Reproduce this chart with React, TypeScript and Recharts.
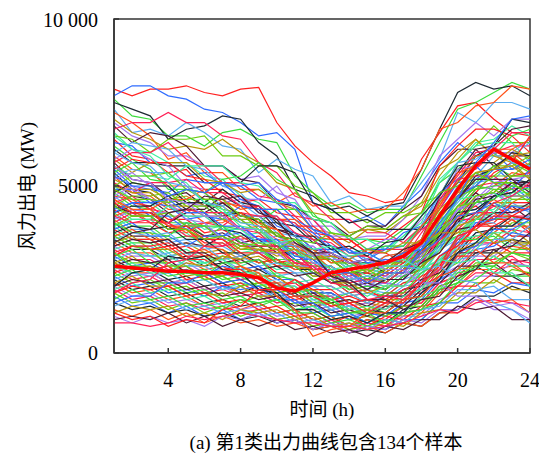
import React from 'react';
import { LineChart, Line, XAxis, YAxis, ReferenceArea } from 'recharts';

const hours = [1, 2, 3, 4, 5, 6, 7, 8, 9, 10, 11, 12, 13, 14, 15, 16, 17, 18, 19, 20, 21, 22, 23, 24];
const xTicks = [4, 8, 12, 16, 20, 24];
const yTicks = [0, 5000, 10000];

// high-start samples (MW)
const highStart: number[][] = [
  [7900,7700,7900,7900,8000,7800,7700,7900,7950,6900,6200,5700,5300,4800,4700,4500,4600,5800,6600,7400,7500,7000,6600,6500],
  [7700,8000,8000,7700,7600,7300,7200,6900,6500,6600,6100,4500,4300,3900,4100,3800,4400,4900,5700,6300,5900,6000,5500,5600],
  [7600,7100,7000,6500,6500,6200,6600,6700,6400,6300,5300,4800,4400,4500,4200,4300,4300,5300,6300,7300,7500,7800,8100,7900],
  [7500,7300,7100,6400,6700,6800,7100,7000,6300,5900,4900,4700,4300,4400,4100,4400,4500,5500,6700,7800,8100,7900,8000,7700],
  [7300,6600,6700,6500,6900,6600,6200,6100,5400,5800,5500,5300,4500,4700,4300,4400,4400,5100,5800,7200,6900,7500,7500,7300],
  [7200,6900,6500,5800,6000,5400,5400,4900,4900,4500,4800,4400,4500,4200,4300,4300,4800,5500,6700,6900,7400,7500,8000,7900],
  [7000,6600,6400,6100,6200,6100,6400,6000,5700,5100,4900,4200,4100,3600,3700,3600,4000,4500,5500,5800,6400,5900,5900,5500],
  [6900,6500,6300,5900,5900,5600,5600,5200,5300,4800,4600,3800,3800,3400,3500,3500,4000,4700,5900,6400,6900,6500,7000,7000],
  [6800,6300,6600,6500,6200,5600,5600,5200,5100,4500,4400,4000,3900,3500,3800,3800,4300,4700,5600,6100,6100,5600,5900,5900],
  [6700,6900,6900,7200,6900,6900,6500,6400,5700,5400,4700,4500,4000,4000,3600,3600,3300,3800,4500,5400,5500,6000,6200,6200],
  [6600,6100,6000,5700,5700,5300,5200,4700,4500,4000,3900,3400,3400,3000,3100,3000,3500,4100,5200,5700,6300,6400,6800,6500],
  [6500,6400,6000,6400,6400,6500,5900,5900,5600,5600,5000,4800,4200,4200,3900,4200,4200,4500,4700,5700,6200,6800,6300,6300],
  [6400,5900,5800,5400,5500,4900,4900,4500,4600,4200,4100,3600,3500,3100,3400,3400,3800,4200,5600,6200,6700,6700,6500,6000],
  [6300,6200,5700,5700,5300,5400,5000,5000,4600,4500,4000,3700,3200,3100,2800,3100,3200,3800,4300,5100,5200,5600,5100,5100],
  [6200,5800,5500,4900,4900,4800,5200,5300,5700,5200,4900,4100,3900,3400,3400,3300,3700,4200,5100,5500,5900,5900,6500,6700],
  [6100,5700,5700,5600,5600,5100,5100,5100,5600,5600,5400,4500,4300,3900,4000,3700,3700,3700,4600,5100,5900,6200,7000,6900],
  [6000,6300,6200,6100,5600,5500,5000,4800,4200,4100,3500,3400,3000,3100,2800,3200,3200,3700,4100,5000,5300,5900,5900,6300],
  [5900,5500,5400,5000,5000,4600,4600,4300,4400,4000,4000,3500,3400,3000,2900,2500,2900,3300,4400,5200,5900,6000,6000,5600],
  [5800,5400,5700,5700,5700,5200,5100,4800,4900,4500,4300,3700,3600,3300,3700,3700,4100,4400,5300,6000,6400,5900,5700,5200],
  [5800,6100,5800,5600,5000,4900,4500,4600,4600,5000,4300,4000,3500,3500,3100,3400,3400,4000,4500,5500,5600,6000,6000,6400],
  [5700,5200,5100,4700,4800,4400,4500,4100,4100,3700,3600,3100,3000,2600,2700,2600,3000,3400,4700,5400,6100,6200,6700,6800],
  [5700,6000,6000,6300,5800,5600,5100,5100,4700,4600,4100,4000,3400,3400,3000,3100,3100,3700,4000,4800,5000,5100,4700,4700],
  [5600,5300,5300,5200,5600,5600,5600,5100,5000,4500,4500,4000,3900,3400,3400,3100,3500,3900,5100,5700,6200,6300,6300,5700],
  [5600,5100,5000,4500,4600,4200,4200,3900,3900,3500,3400,2900,2900,2500,2600,2500,2900,3200,4200,4700,5200,5300,5700,5400],
  [5500,5800,5700,5700,5300,5200,4800,4700,4300,4300,3800,3800,3400,3400,3000,3000,2700,3100,3500,4400,4800,5400,5700,6500],
  [5500,5000,4900,4800,5200,5100,5100,4600,4400,3800,3600,3100,3100,2800,3100,3100,3600,3800,4800,5200,5600,5100,5000,4600],
  [5400,5700,5200,5100,4600,4600,4200,4200,3900,4300,4300,4200,3600,3500,3100,3200,3200,3800,4100,4900,5100,5600,5300,5300],
  [5400,4900,4800,4400,4500,4500,4900,4500,4400,3900,3800,3300,3200,2700,2700,2400,2800,3100,4100,4600,5300,5500,6000,5900],
  [5300,5500,5400,5400,4900,4800,4400,4500,4100,4000,3500,3400,2900,2900,2600,2900,3000,3800,4700,5700,5800,6200,5700,5600],
  [5300,4800,4700,4300,4300,3900,4000,3700,3800,3400,3300,2800,2800,2400,2500,2400,2800,3000,3900,4300,4900,5000,5400,5300],
];

// mid-start samples (MW)
const midStart: number[][] = [
  [5200,4900,4900,4600,4700,4400,4400,4000,4000,3500,3400,2900,2800,2400,2500,2400,2900,3300,4500,5100,5700,5700,6100,5800],
  [5200,5400,5000,5000,4500,4400,4000,4000,3600,3600,3200,3200,2800,2800,2500,2800,2800,3300,3600,4300,4500,5000,5000,5400],
  [5100,4700,4600,4200,4300,4300,4700,4400,4300,3700,3500,2900,2800,2400,2400,2100,2500,2800,3700,4200,4800,4400,4400,4000],
  [5100,4800,5100,5100,5200,4800,4800,4400,4400,4000,3900,3400,3300,2900,2900,2600,3000,3400,4600,5300,6000,6100,6600,6600],
  [5000,4600,4500,4100,4100,3700,3800,3500,3600,3200,3200,2800,2900,2600,2700,2600,3000,3200,4000,4300,4600,4200,4100,3700],
  [5000,5300,5300,5400,4900,4800,4300,4200,3700,3600,3100,3000,2500,2500,2200,2500,2500,3100,3600,4600,5000,5600,5600,5900],
  [4900,4500,4400,4000,4000,3600,3700,3400,3500,3200,3200,2700,2600,2200,2300,2200,2600,2800,3600,4000,4700,4800,5300,5400],
  [4900,4900,4500,4400,4000,4100,4000,4400,4300,4300,3800,3600,3100,3100,2700,2800,2700,3200,3500,4200,4300,4700,4700,5000],
  [4800,4400,4300,3900,3900,3500,3500,3100,3100,2700,2700,2300,2300,1900,2000,1900,2300,2600,3600,4200,4900,5000,5100,4700],
  [4800,5100,5000,5000,4500,4500,4100,4200,3900,3900,3500,3500,3100,3200,2900,3300,3400,4100,4700,5600,5700,5700,5200,5100],
  [4700,4300,4200,3800,3900,3800,4200,4100,4100,3600,3500,3000,2900,2500,2600,2300,2700,2900,3900,4500,5100,5200,5700,5600],
  [4700,4600,4300,4600,4600,4900,4500,4400,3900,3700,3100,3000,2500,2500,2100,2200,2200,2800,3200,4000,4200,4600,4300,4300],
  [4600,4200,4100,3700,3700,3400,3400,3100,3200,2900,3000,2600,2600,2200,2300,2200,2600,2900,4000,4700,5400,5500,5900,6000],
  [4600,4900,4600,4500,4100,4100,3700,3700,3400,3500,3200,3200,2800,2800,2500,2600,2600,3200,3600,4300,4400,4800,4500,4500],
  [4500,4100,4100,3700,3800,3500,3600,3300,3400,3000,3000,2500,2500,2100,2200,2100,2500,2700,3500,3900,4500,4600,5100,5100],
  [4500,4700,4300,4200,3800,3900,3800,4200,4100,4100,3600,3400,2900,2800,2400,2700,2800,3600,4300,5200,5300,5300,4900,5000],
  [4400,4000,4000,3600,3600,3200,3300,3000,3100,2800,2800,2400,2400,2000,2100,2000,2400,2500,3200,3500,4100,4200,4600,4600],
  [4400,4700,4700,4800,4400,4400,4000,4000,3600,3600,3200,3100,2700,2700,2400,2700,2700,3300,3800,4700,4900,5300,5300,5700],
  [4300,3900,3900,3600,3700,3300,3300,2900,3000,2700,2800,2500,2600,2300,2400,2300,2700,3000,3800,4100,4400,4000,4000,3600],
  [4300,4500,4100,4100,3700,3800,3500,3600,3300,3400,3000,2900,2400,2400,2000,2100,2000,2600,3100,3900,4100,4700,4900,5500],
  [4200,3800,3800,3400,3500,3400,3800,3700,3700,3200,3100,2600,2600,2200,2300,2100,2500,2800,3800,4400,5000,4900,4900,4500],
  [4200,4400,4400,4700,4300,4200,3700,3600,3200,3200,2800,2800,2400,2500,2200,2500,2500,3100,3500,4200,4300,4700,4800,5200],
  [4100,3700,3700,3300,3400,3100,3200,2900,3000,2600,2600,2200,2200,1800,1900,1800,2200,2400,3100,3400,4000,4100,4500,4200],
  [4100,4300,3900,3900,3600,3900,3900,4200,3800,3700,3200,3100,2700,2800,2500,2900,3000,3800,4400,5400,5600,6100,6100,6400],
  [4000,3600,3600,3200,3300,3000,3100,2800,2900,2600,2700,2300,2300,1900,2000,1900,2300,2500,3300,3600,4100,3700,3700,3300],
  [4000,4300,4200,4200,3800,3800,3400,3400,3000,3000,2600,2600,2200,2300,2000,2300,2300,2900,3400,4300,4600,5100,5200,5300],
  [3900,3500,3500,3200,3300,3200,3500,3200,3200,2800,2800,2400,2400,2000,2100,1900,2300,2500,3400,3900,4600,4700,5100,5000],
  [3900,4200,3900,3900,3500,3500,3200,3300,3000,3100,2700,2700,2300,2400,2100,2400,2400,3000,3300,4000,4000,4400,4100,4100],
  [3800,3400,3400,3000,3100,2800,2900,2600,2800,2500,2600,2200,2200,1800,1900,1700,2100,2300,3100,3500,4200,4300,4800,4800],
  [3800,4100,4100,4200,3800,3800,3400,3500,3200,3300,2900,2900,2500,2500,2200,2500,2500,3100,3600,4400,4500,4900,4600,4600],
  [3700,3400,3400,3100,3200,2900,3000,2700,2800,2400,2400,2000,2000,1700,1800,1700,2100,2200,2900,3200,3800,3900,4400,4400],
  [3700,3900,3500,3500,3200,3500,3500,3800,3400,3300,2800,2800,2400,2400,2100,2400,2400,3100,3700,4700,5000,5500,5500,5800],
  [3600,3300,3300,2900,3000,2700,2900,2800,3100,2800,2800,2400,2400,2100,2200,2100,2500,2600,3300,3500,4000,4000,4100,3700],
  [3600,3800,3700,3800,3400,3400,3000,3000,2700,2800,2500,2500,2100,2200,1900,2200,2200,2800,3200,4000,4200,4700,4800,5200],
  [3500,3200,3200,2900,3000,2700,2800,2500,2600,2300,2400,2000,2000,1700,1800,1600,2000,2100,2800,3100,3600,3600,4000,4000],
  [3500,3700,3400,3400,3000,3100,2800,2900,2700,2800,2500,2600,2300,2400,2100,2400,2400,3000,3400,4100,4200,4200,3800,3800],
  [5000,4800,4800,4400,4400,4100,4100,3700,3700,3300,3300,2900,3000,2700,2800,2700,3100,3400,4300,4800,5400,5500,5600,5200],
  [4700,5000,4600,4500,4000,3900,3400,3400,3000,3000,2600,2600,2200,2300,2000,2100,2000,2400,2700,3500,3700,4100,4000,4100],
  [4400,4200,4200,3900,4200,4200,4500,4100,4000,3500,3400,3000,3000,2700,2800,2700,3100,3300,4100,4600,5200,5200,5200,4800],
  [4100,3900,4000,3900,4300,4200,4200,3700,3600,3100,3000,2500,2500,2100,2200,2100,2500,2700,3400,3700,4200,4200,4700,4700],
  [3800,4000,4000,4400,4100,4100,3700,3700,3300,3300,2900,2900,2500,2600,2300,2600,2600,3300,3800,4600,4700,4800,4400,4400],
  [4900,4600,4600,4500,4900,4600,4600,4100,4000,3500,3400,2900,2800,2400,2500,2200,2600,2800,3600,4100,4700,4800,5300,5300],
  [4500,4200,4200,3800,3800,3400,3400,3000,3000,2600,2600,2200,2200,1800,1900,1600,1900,2000,2700,3100,3800,4000,4500,4500],
  [4200,4500,4500,4600,4200,4200,3800,3800,3400,3400,2900,2800,2400,2400,2100,2400,2400,3000,3400,4100,4200,4500,4200,4300],
  [3900,3600,3600,3500,3900,3800,3800,3300,3200,2700,2600,2200,2200,1900,2000,1900,2300,2500,3300,3800,4500,4600,5000,4900],
];

// low-start samples (MW)
const lowStart: number[][] = [
  [3400,3100,3100,2800,2900,2600,2700,2400,2500,2200,2200,1800,1800,1500,1600,1500,1900,2000,2700,3000,3600,3700,4100,4000],
  [3400,3600,3500,3600,3200,3200,2800,2900,2600,2700,2400,2400,2100,2200,1900,2200,2200,2800,3200,3900,3900,3900,3500,3500],
  [3300,3000,3000,2700,2800,2500,2600,2300,2400,2100,2100,1700,1700,1400,1500,1400,1800,1900,2600,2900,3500,3600,4000,3700],
  [3300,3500,3100,3100,2800,2900,2800,3200,3100,3100,2600,2500,2100,2100,1800,2000,2000,2600,3000,3800,4000,4500,4500,4800],
  [3200,2900,2900,2600,2700,2400,2500,2200,2300,2000,2000,1600,1700,1400,1500,1300,1600,1700,2300,2600,3200,3300,3400,3000],
  [3200,3400,3300,3400,3000,3000,2700,2800,2500,2600,2300,2400,2100,2200,1900,2200,2200,2700,3000,3700,3800,4200,4200,4500],
  [3100,2800,2800,2500,2600,2300,2400,2200,2300,2000,2100,1700,1700,1300,1400,1300,1700,1800,2500,2800,3300,3300,3700,3600],
  [3100,3300,2900,2900,2600,2700,2400,2500,2300,2400,2100,2200,1900,2000,1700,2000,2000,2500,2800,3400,3500,3600,3200,3300],
  [3000,2700,2700,2400,2500,2200,2300,2000,2100,1800,1900,1500,1600,1300,1400,1200,1600,1700,2400,2700,3300,3400,3900,3900],
  [3000,3200,3100,3200,2800,2800,2500,2600,2300,2300,1900,1900,1600,1700,1500,1800,1800,2300,2600,3300,3400,3800,3500,3500],
  [2900,2600,2700,2400,2500,2300,2600,2500,2600,2200,2200,1800,1800,1500,1600,1500,1900,2100,2900,3300,3900,4000,4400,4300],
  [2900,3100,2700,2700,2400,2500,2200,2300,2000,2100,1800,1900,1600,1800,1500,1800,1800,2400,2700,3400,3400,3500,3100,3100],
  [2800,2500,2500,2200,2300,2000,2100,1800,2000,1700,1800,1400,1500,1200,1300,1200,1600,1700,2300,2500,3000,3000,3400,3300],
  [2800,3000,2900,3000,2600,2600,2300,2400,2100,2200,1900,2000,1700,1800,1500,1700,1700,2200,2500,3200,3300,3800,3800,4100],
  [2700,2400,2400,2100,2200,1900,2000,1800,1900,1600,1700,1400,1500,1200,1300,1100,1400,1500,2100,2300,2800,2800,3200,3100],
  [2700,2900,2500,2600,2300,2400,2300,2600,2300,2300,1900,1900,1500,1600,1300,1600,1600,2100,2400,3100,3200,3600,3300,3300],
  [2600,2300,2400,2100,2200,1900,2000,1700,1800,1500,1600,1300,1400,1100,1200,1100,1500,1600,2200,2400,2900,2900,3300,3200],
  [2600,2800,2700,2800,2400,2400,2100,2200,1900,2000,1700,1800,1500,1600,1400,1700,1700,2200,2400,3000,3000,3100,2700,2800],
  [2500,2200,2300,2000,2100,1800,1900,1700,1800,1500,1600,1200,1300,1000,1100,1000,1400,1500,2100,2300,2800,2800,2900,2500],
  [2500,2700,2400,2400,2100,2200,1900,2100,2000,2100,1700,1700,1300,1400,1100,1400,1400,1900,2200,2900,3100,3600,3600,4000],
  [2400,2100,2200,1900,2000,1700,1800,1500,1700,1400,1500,1200,1300,1000,1100,900,1200,1300,1900,2100,2600,2600,3000,2900],
  [2400,2600,2500,2600,2200,2300,2000,2100,1800,1900,1600,1700,1400,1500,1200,1500,1500,2000,2300,2900,2900,3300,3000,3000],
  [2300,2000,2100,1800,1900,1700,2000,1900,2000,1600,1600,1200,1300,1000,1200,1100,1500,1600,2200,2500,3100,3200,3600,3500],
  [2300,2500,2100,2100,1800,1900,1600,1700,1400,1600,1300,1400,1100,1200,900,1200,1100,1600,1800,2400,2500,2900,2600,2600],
  [2200,1900,2000,1700,1800,1500,1600,1400,1500,1200,1300,1000,1100,800,1000,900,1300,1400,2000,2200,2600,2300,2300,2000],
  [2200,2400,2300,2400,2100,2200,1900,2000,1700,1800,1500,1600,1300,1400,1200,1500,1500,2000,2200,2800,2900,3400,3400,3800],
  [2100,1800,1900,1600,1700,1400,1600,1300,1500,1200,1300,1000,1100,800,1000,800,1100,1200,1800,2000,2500,2500,2600,2300],
  [2100,2300,2000,2000,1700,1800,1700,2000,1700,1700,1300,1300,1000,1100,900,1200,1200,1700,1900,2500,2600,3000,3000,3300],
  [2000,1700,1800,1500,1600,1400,1500,1300,1400,1100,1200,900,1000,800,900,800,1100,1100,1600,1800,2300,2300,2700,2600],
  [2000,2200,2100,2200,1900,2000,1700,1800,1600,1700,1400,1500,1200,1300,1100,1400,1400,1900,2100,2600,2600,2700,2300,2400],
  [1900,1600,1700,1400,1500,1300,1400,1200,1300,1000,1100,800,1000,700,900,800,1200,1300,1900,2000,2400,2400,2800,2700],
  [1900,2100,1800,1900,1600,1700,1400,1600,1500,1600,1300,1400,1100,1200,900,1200,1200,1700,1900,2500,2500,2900,2600,2600],
  [1800,1500,1600,1300,1500,1200,1400,1100,1300,1000,1100,800,900,700,800,700,1000,1000,1500,1600,2100,2100,2500,2400],
  [1800,2000,1900,2000,1700,1800,1500,1600,1300,1400,1100,1200,900,1100,800,1100,1000,1400,1500,2000,2000,2400,2100,2100],
  [1700,1400,1500,1200,1400,1100,1300,1000,1200,900,1000,700,900,600,800,700,1000,1000,1500,1500,1900,1800,2100,2000],
  [1600,1900,1600,1700,1400,1500,1300,1600,1500,1600,1200,1200,900,1000,800,1000,900,1300,1500,2100,2200,2600,2300,2300],
  [1500,1300,1400,1200,1300,1100,1200,1000,1100,900,1000,700,800,600,700,600,900,800,1200,1300,1700,1700,2000,1800],
  [1400,1600,1500,1600,1300,1400,1200,1300,1100,1200,900,1000,800,900,700,1000,900,1300,1400,1900,1900,2000,1600,1600],
  [1300,1100,1300,1000,1200,900,1100,900,1000,800,900,700,800,600,800,600,900,800,1200,1200,1600,1500,1600,1200],
  [1200,1400,1300,1400,1100,1200,1000,1300,1200,1300,1000,1100,800,900,700,900,800,1200,1300,1800,1800,2200,1900,1900],
  [1100,900,1100,900,1000,800,1100,1000,1200,900,1000,700,900,600,800,700,1000,900,1300,1300,1600,1300,1300,1000],
  [1000,1100,1000,1200,900,1100,800,1000,800,1000,700,800,600,700,500,800,700,1000,1000,1400,1300,1400,1000,1000],
  [900,900,800,900,1100,1000,1100,1200,1100,1000,900,900,800,800,700,800,900,1100,1300,1200,1500,1600,1500,1400],
  [2600,2400,2500,2400,2800,2700,2800,2400,2400,2000,2000,1600,1600,1300,1400,1300,1700,1900,2700,3200,4000,4200,4700,4700],
  [3500,3200,3100,2600,2600,2200,2300,2000,2100,1800,1900,1500,1500,1200,1300,1100,1400,1400,2000,2200,2700,2700,3000,2800],
  [2900,3200,3200,3300,2900,2900,2500,2500,2100,2100,1700,1700,1400,1500,1200,1500,1500,2100,2600,3500,3700,4100,4100,4400],
  [1500,1700,1700,2100,2100,2400,2100,2200,1900,1900,1500,1500,1100,1200,900,1200,1200,1800,2200,3000,3200,3700,3700,4000],
  [3000,2600,2600,2300,2400,2300,2700,2700,2800,2300,2200,1700,1600,1200,1200,900,1200,1300,1900,2100,2600,2600,3000,2900],
  [2000,2400,2500,2900,2800,2900,2500,2400,1900,1800,1300,1300,1000,1100,900,1200,1200,1800,2200,3000,3300,3800,3800,4200],
];

// irregular samples (MW)
const irregular: number[][] = [
  [6000,5700,5600,5100,5000,4500,4400,3900,3800,3300,3200,2700,2600,2200,2300,2200,2600,2500,2600,2200,2100,1500,1300,900],
  [4600,4300,4300,3800,3700,3200,3100,2600,2400,1700,1300,500,700,800,1200,1200,1600,1700,2300,2500,3100,2700,2700,2300],
  [2700,2500,2600,2400,2700,2600,2900,2800,3100,3000,3100,2800,2900,2800,3100,3000,3300,3300,3600,3600,3700,3300,3400,3100],
  [5600,5200,5100,4600,4500,4100,4100,3700,3700,3300,3300,2900,3000,2700,2800,2500,2500,2100,2100,1700,1700,1400,1500,1200],
  [3300,3600,3700,4200,4300,4700,4600,4700,4200,4000,3300,3000,2300,2100,1600,1600,1300,1600,1700,2300,2500,3100,3200,3600],
  [1800,2100,2200,2700,2800,3200,3200,3500,3200,3200,2700,2600,2100,2000,1600,1700,1600,2100,2500,3400,3800,4500,4700,5100],
  [6500,6100,5900,5300,5100,4500,4300,3800,3700,3300,3400,3100,3200,2900,3000,2700,2800,2500,2800,2700,2800,2400,2400,2000],
  [4400,4100,4100,3700,3700,3400,3500,3200,3300,3100,3400,3300,3600,3500,3800,3700,4100,4200,4800,5000,5400,5100,5100,4700],
  [1200,1000,1100,800,1000,900,1300,1400,1900,1900,2200,1900,1900,1500,1600,1500,1900,2100,2900,3200,3800,3800,4100,4000],
  [5300,5000,5000,4700,4900,4800,5100,5000,5100,4600,4400,3700,3500,3000,3000,2700,3000,3100,3900,4600,5700,6300,7000,7100],
];

// highlighted typical curve (MW)
const typicalCurve = [2600,2550,2500,2450,2450,2400,2400,2350,2250,1950,1850,2100,2400,2500,2600,2700,2900,3300,4100,4900,5600,6100,5800,5500];

const palette = ['#ff2020', '#2f6cff', '#3cdc3c', '#1e2a33', '#5caef0', '#ff5219', '#b8960c', '#a478f0', '#4d1a33', '#ff1f55', '#40eea0', '#6ccc12'];

const samples = [...highStart, ...midStart, ...lowStart, ...irregular];

const rows = hours.map((h, i) => {
  const row: Record<string, number> = { hour: h, typical: typicalCurve[i] };
  samples.forEach((s, k) => {
    row['s' + k] = s[i];
  });
  return row;
});

const serif = "'Liberation Serif', 'Times New Roman', 'Noto Sans CJK SC', serif";

export default function App() {
  return (
    <div style={{ position: 'relative', width: 539, height: 450, fontFamily: serif, color: '#000' }}>
      <LineChart width={539} height={400} data={rows} margin={{ top: 11, right: 17, left: 0, bottom: 0 }}>
        <XAxis
          dataKey="hour"
          type="number"
          domain={[1, 24]}
          ticks={xTicks}
          height={55}
          tickSize={-5}
          tickMargin={25}
          stroke="#333"
          strokeWidth={1.5}
          tick={{ fill: '#000', fontSize: 20, fontFamily: serif }}
        />
        <YAxis
          type="number"
          domain={[0, 10000]}
          ticks={yTicks}
          width={106}
          tickSize={-5}
          tickMargin={21}
          stroke="#333"
          strokeWidth={1.5}
          tickFormatter={(v: number) => (v === 10000 ? '10 000' : String(v))}
          tick={{ fill: '#000', fontSize: 20, fontFamily: serif }}
        />
        {samples.map((_, k) => (
          <Line
            key={k}
            type="linear"
            dataKey={'s' + k}
            stroke={palette[k % palette.length]}
            strokeWidth={1.2}
            dot={false}
            activeDot={false}
            isAnimationActive={false}
          />
        ))}
        <Line
          type="linear"
          dataKey="typical"
          stroke="#ff0000"
          strokeWidth={3.5}
          dot={false}
          activeDot={false}
          isAnimationActive={false}
        />
        <ReferenceArea x1={1} x2={24} y1={0} y2={10000} fill="none" fillOpacity={0} stroke="#333" strokeWidth={1.5} />
      </LineChart>
      <div
        style={{
          position: 'absolute',
          left: 20 - 80,
          top: 178 - 12,
          width: 160,
          height: 24,
          lineHeight: '24px',
          textAlign: 'center',
          fontSize: 19,
          transform: 'rotate(-90deg)',
          whiteSpace: 'nowrap',
        }}
      >
        风力出电 (MW)
      </div>
      <div
        style={{
          position: 'absolute',
          left: 314 - 80,
          top: 402 - 12,
          width: 160,
          height: 24,
          lineHeight: '24px',
          textAlign: 'center',
          fontSize: 19,
          whiteSpace: 'nowrap',
        }}
      >
        时间 (h)
      </div>
      <div
        style={{
          position: 'absolute',
          left: 318 - 170,
          top: 435 - 12,
          width: 340,
          height: 24,
          lineHeight: '24px',
          textAlign: 'center',
          fontSize: 19,
          whiteSpace: 'nowrap',
        }}
      >
        (a) 第1类出力曲线包含134个样本
      </div>
    </div>
  );
}
